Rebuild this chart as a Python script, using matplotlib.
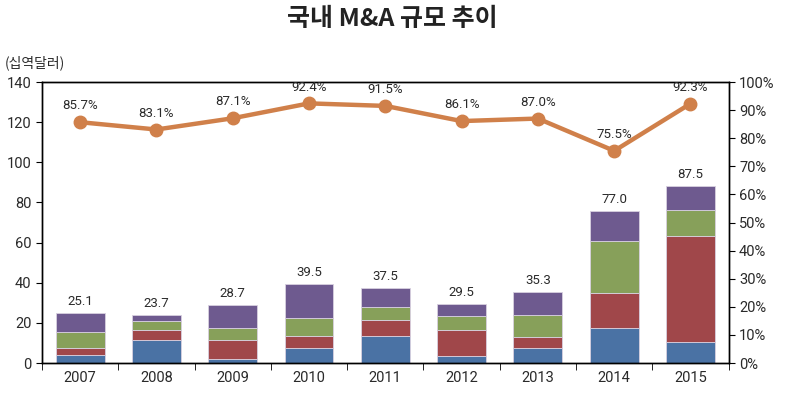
import numpy as np
import matplotlib
matplotlib.use("Agg")
import matplotlib.pyplot as plt

plt.rcParams['font.family'] = ['Roboto', 'Noto Sans CJK KR', 'DejaVu Sans']

years = ['2007', '2008', '2009', '2010', '2011', '2012', '2013', '2014', '2015']
blue = [4.2, 11.3, 2.2, 7.5, 13.6, 3.6, 7.7, 17.6, 10.4]
red = [3.3, 5.0, 9.2, 5.8, 8.0, 12.7, 5.3, 17.3, 52.8]
green = [7.8, 4.8, 5.8, 9.2, 6.2, 7.0, 10.8, 25.7, 12.8]
purple = [9.8, 2.6, 11.5, 17.0, 9.7, 6.2, 11.5, 15.0, 12.1]
totals = [25.1, 23.7, 28.7, 39.5, 37.5, 29.5, 35.3, 77.0, 87.5]
share = [85.7, 83.1, 87.1, 92.4, 91.5, 86.1, 87.0, 75.5, 92.3]

colors = ['#4a72a4', '#a0474a', '#87a05a', '#6e5a8f']
line_color = '#d0804a'
txt = '#2a2a2a'

fig = plt.figure(figsize=(7.92, 3.93), dpi=100)
ax = fig.add_axes([0.053, 0.0763, 0.867, 0.715])
x = np.arange(len(years))

bottom = np.zeros(len(years))
for vals, c in zip([blue, red, green, purple], colors):
    ax.bar(x, vals, 0.64, bottom=bottom, color=c, edgecolor='#d8d0e0', linewidth=0.6)
    bottom += np.array(vals)

for xi, top, t in zip(x, bottom, totals):
    ax.text(xi, top + 2.5, f'{t:.1f}', ha='center', va='bottom', fontsize=9.5, color=txt)

ax.set_xlim(-0.5, len(years) - 0.5)
ax.set_ylim(0, 140)
ax.set_yticks(range(0, 141, 20))
ax.set_xticks(x)
ax.set_xticklabels(years)
ax.tick_params(axis='x', length=0, labelsize=10.5, pad=6, labelcolor=txt)
ax.set_xticks(np.arange(-0.5, len(years)), minor=True)
ax.tick_params(axis='x', which='minor', length=5, direction='out', color='black')
ax.tick_params(axis='y', labelsize=10.5, length=4, direction='out', labelcolor=txt, color='black')
for s in ax.spines.values():
    s.set_linewidth(1.0)
    s.set_color('black')

ax2 = ax.twinx()
ax2.plot(x, share, color=line_color, linewidth=3.2, marker='o', markersize=9)
for xi, p in zip(x, share):
    ax2.text(xi, p + 3.5, f'{p:.1f}%', ha='center', va='bottom', fontsize=9.5, color=txt)
ax2.set_ylim(0, 100)
ax2.set_yticks(range(0, 101, 10))
ax2.set_yticklabels([f'{v}%' for v in range(0, 101, 10)])
ax2.tick_params(axis='y', labelsize=10.5, length=4, direction='out', labelcolor=txt, color='black')
for s in ax2.spines.values():
    s.set_linewidth(1.0)
    s.set_color('black')

fig.text(0.495, 0.952, '국내 M&A 규모 추이', ha='center', va='center', fontsize=18,
         fontweight='bold', color='#222222', family=['Noto Sans CJK KR', 'DejaVu Sans'])
fig.text(0.006, 0.84, '(십역달러)', ha='left', va='center', fontsize=10, color=txt,
         family=['Noto Sans CJK KR', 'DejaVu Sans'])

fig.savefig('out.png', dpi=100)
